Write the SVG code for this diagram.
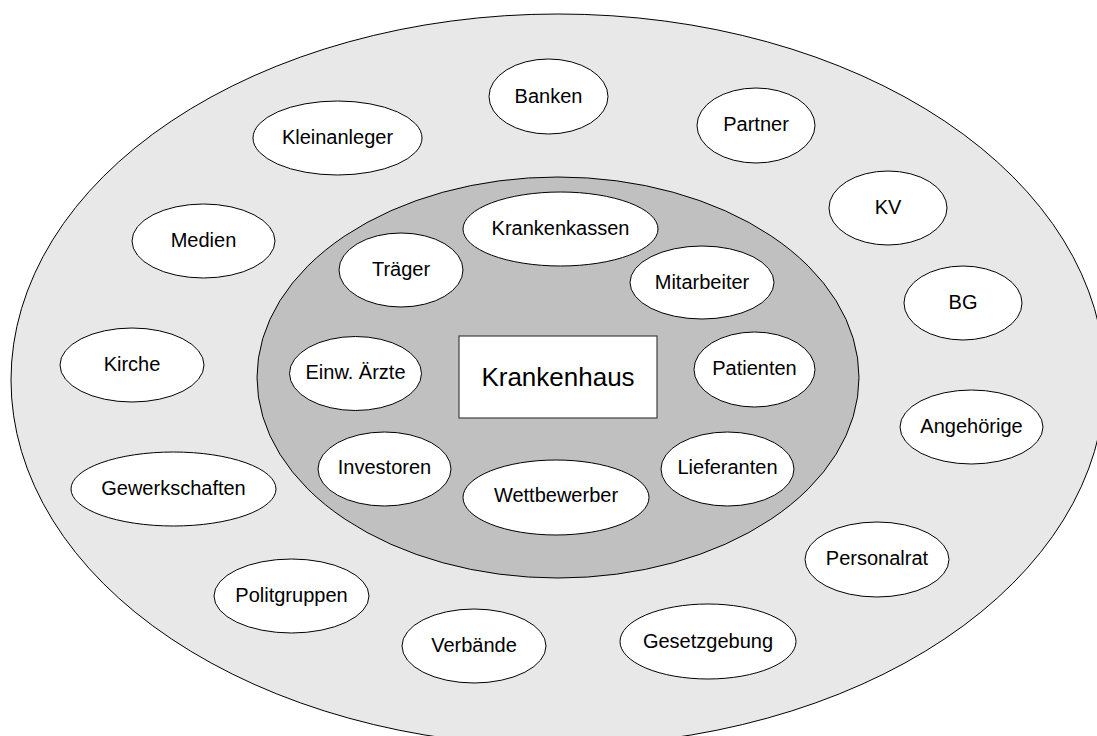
<svg xmlns="http://www.w3.org/2000/svg" width="1097" height="736" viewBox="0 0 1097 736">
  <style>
    .ring-outer { fill: #e8e8e8; stroke: #000; stroke-width: 1; }
    .ring-inner { fill: #c0c0c0; stroke: #000; stroke-width: 1; }
    .node ellipse { fill: #fff; stroke: #000; stroke-width: 1; }
    .node text { font-family: "Liberation Sans", Arial, sans-serif; font-size: 20px; fill: #000; text-anchor: middle; }
    .core rect { fill: #fff; stroke: #404040; stroke-width: 1.2; }
    .core text { font-family: "Liberation Sans", Arial, sans-serif; font-size: 26px; fill: #000; text-anchor: middle; }
  </style>

  <!-- background rings -->
  <rect width="1097" height="736" fill="#fff"/>
  <ellipse id="outer-ring" class="ring-outer" cx="558" cy="380" rx="547" ry="366"/>
  <ellipse id="inner-ring" class="ring-inner" cx="558" cy="377.5" rx="301" ry="200.5"/>

  <!-- outer ring stakeholders -->
  <g id="banken" class="node"><ellipse cx="548.5" cy="96.5" rx="59.5" ry="37.5"/><text x="548.5" y="103">Banken</text></g>
  <g id="partner" class="node"><ellipse cx="756" cy="125.5" rx="59" ry="37.5"/><text x="756" y="131">Partner</text></g>
  <g id="kv" class="node"><ellipse cx="888" cy="208" rx="59" ry="37"/><text x="888" y="214">KV</text></g>
  <g id="bg" class="node"><ellipse cx="963" cy="303" rx="59" ry="37"/><text x="963" y="309">BG</text></g>
  <g id="angehoerige" class="node"><ellipse cx="971.5" cy="427" rx="71.5" ry="37"/><text x="971.5" y="433">Angehörige</text></g>
  <g id="personalrat" class="node"><ellipse cx="877" cy="559.5" rx="72" ry="37.5"/><text x="877" y="565">Personalrat</text></g>
  <g id="gesetzgebung" class="node"><ellipse cx="708" cy="641.5" rx="88" ry="37.5"/><text x="708" y="647.5">Gesetzgebung</text></g>
  <g id="verbaende" class="node"><ellipse cx="474" cy="646" rx="72" ry="37"/><text x="474" y="651.5">Verbände</text></g>
  <g id="politgruppen" class="node"><ellipse cx="291.5" cy="596" rx="77.5" ry="37"/><text x="291.5" y="602">Politgruppen</text></g>
  <g id="gewerkschaften" class="node"><ellipse cx="173.5" cy="489" rx="102.5" ry="37"/><text x="173.5" y="495">Gewerkschaften</text></g>
  <g id="kirche" class="node"><ellipse cx="132" cy="365" rx="72" ry="37"/><text x="132" y="371">Kirche</text></g>
  <g id="medien" class="node"><ellipse cx="203.5" cy="241" rx="71.5" ry="37"/><text x="203.5" y="247">Medien</text></g>
  <g id="kleinanleger" class="node"><ellipse cx="337.5" cy="138" rx="84.5" ry="37"/><text x="337.5" y="144">Kleinanleger</text></g>

  <!-- inner ring stakeholders -->
  <g id="krankenkassen" class="node"><ellipse cx="560.5" cy="229" rx="97.5" ry="37"/><text x="560.5" y="235">Krankenkassen</text></g>
  <g id="mitarbeiter" class="node"><ellipse cx="702" cy="282.5" rx="72" ry="36.5"/><text x="702" y="288.5">Mitarbeiter</text></g>
  <g id="patienten" class="node"><ellipse cx="754.5" cy="369.5" rx="60.5" ry="37.5"/><text x="754.5" y="374.5">Patienten</text></g>
  <g id="lieferanten" class="node"><ellipse cx="727.5" cy="469" rx="66.5" ry="37"/><text x="727.5" y="473.5">Lieferanten</text></g>
  <g id="wettbewerber" class="node"><ellipse cx="556" cy="497.5" rx="93" ry="37.5"/><text x="556" y="502">Wettbewerber</text></g>
  <g id="investoren" class="node"><ellipse cx="384.5" cy="469" rx="66.5" ry="37"/><text x="384.5" y="473.5">Investoren</text></g>
  <g id="einw-aerzte" class="node"><ellipse cx="355.5" cy="373.5" rx="66" ry="37"/><text x="355.5" y="379">Einw. Ärzte</text></g>
  <g id="traeger" class="node"><ellipse cx="401" cy="270" rx="62" ry="37"/><text x="401" y="276">Träger</text></g>

  <!-- centre -->
  <g id="krankenhaus" class="core"><rect x="459" y="336" width="198" height="82"/><text x="558" y="386">Krankenhaus</text></g>
</svg>
